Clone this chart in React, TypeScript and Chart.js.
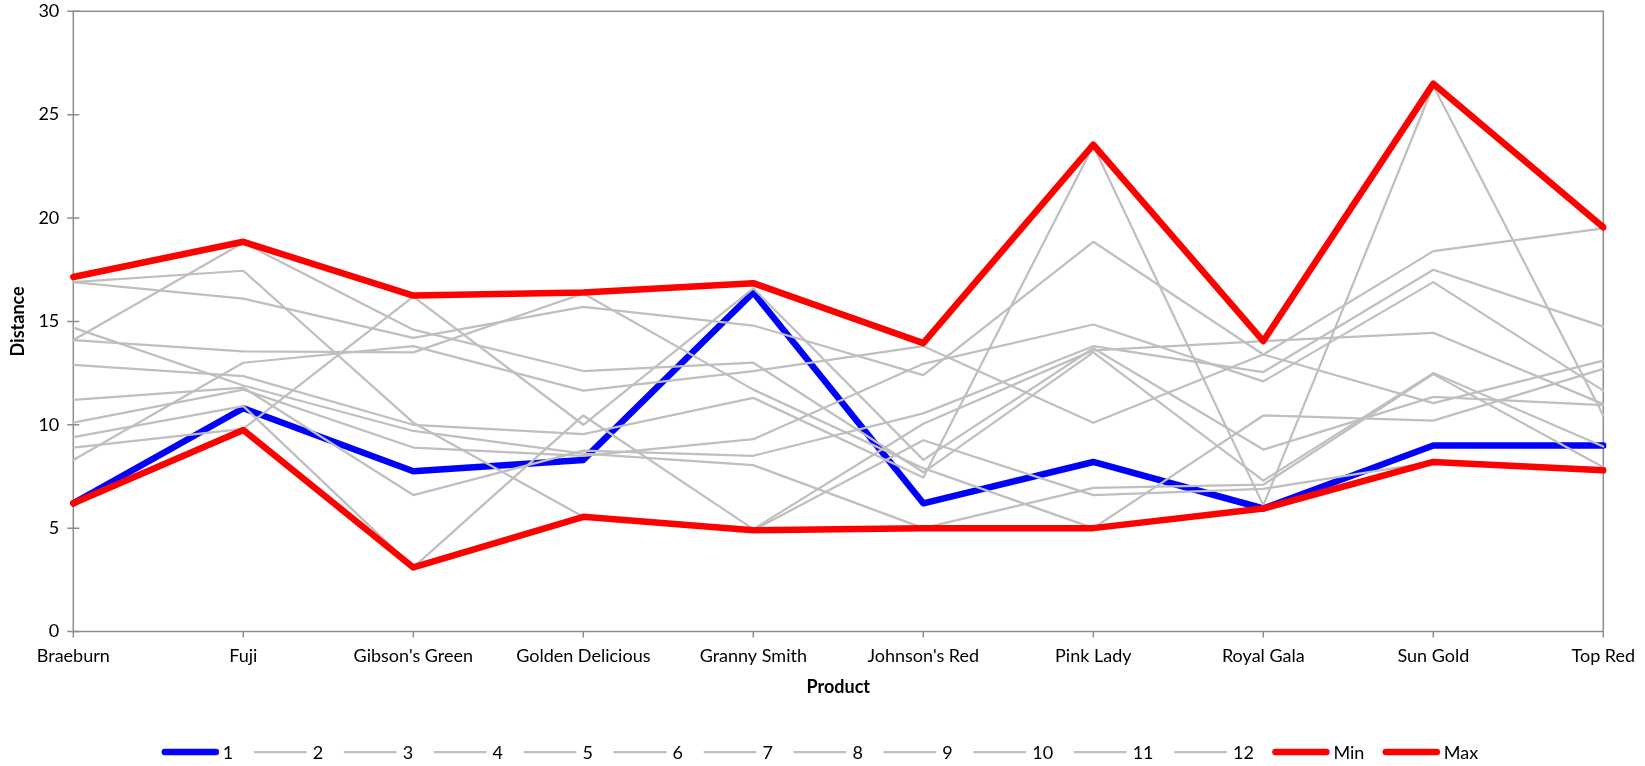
import React, { useEffect, useRef } from "react";
import { Chart, registerables } from "chart.js";

Chart.register(...registerables);

// Products on the category axis
const categories = [
  "Braeburn",
  "Fuji",
  "Gibson's Green",
  "Golden Delicious",
  "Granny Smith",
  "Johnson's Red",
  "Pink Lady",
  "Royal Gala",
  "Sun Gold",
  "Top Red",
];

// Distance per product for each respondent
const series1 = [6.2, 10.8, 7.75, 8.3, 16.4, 6.2, 8.2, 5.95, 9.0, 9.0];
const series2 = [14.1, 18.8, 14.6, 12.6, 13.0, 7.7, 13.5, 7.3, 12.5, 8.95];
const series3 = [16.9, 17.45, 10.1, 5.55, 4.9, 9.25, 6.6, 6.9, 8.2, 7.8];
const series4 = [16.9, 16.1, 14.2, 15.7, 14.8, 12.4, 18.85, 13.4, 11.05, 13.1];
const series5 = [14.1, 13.55, 13.5, 16.35, 11.7, 7.9, 5.0, 10.45, 10.2, 12.7];
const series6 = [14.7, 11.9, 9.7, 8.6, 8.05, 5.0, 6.95, 7.1, 12.45, 7.95];
const series7 = [12.9, 12.35, 10.0, 9.55, 11.3, 7.45, 23.5, 6.1, 26.4, 10.45];
const series8 = [8.3, 13.0, 13.8, 11.65, 12.6, 13.8, 10.1, 13.4, 18.4, 19.5];
const series9 = [11.2, 11.8, 6.6, 8.75, 8.5, 10.55, 13.8, 12.55, 17.5, 14.75];
const series10 = [10.1, 11.7, 8.9, 8.5, 9.3, 12.95, 14.85, 12.1, 16.9, 11.65];
const series11 = [9.4, 10.9, 3.1, 10.45, 4.95, 10.05, 13.6, 14.05, 14.45, 11.0];
const series12 = [8.9, 9.8, 16.2, 10.0, 16.6, 8.3, 13.7, 8.8, 11.35, 10.95];

// Envelope across all respondents
const minValues = [6.2, 9.75, 3.1, 5.55, 4.9, 5.0, 5.0, 5.95, 8.2, 7.8];
const maxValues = [17.15, 18.85, 16.25, 16.4, 16.85, 13.95, 23.55, 14.05, 26.5, 19.55];

const yTicks = [0, 5, 10, 15, 20, 25, 30];

const BLUE = "#0000FF";
const RED = "#FF0000";
const GRAY = "#BFBFBF";
const AXIS = "#8C8C8C";
const FONT = "Lato, 'Open Sans', 'DejaVu Sans', sans-serif";

const THICK = 6.5;
const THIN = 2.25;

const grayRows = [
  series2, series3, series4, series5, series6, series7,
  series8, series9, series10, series11, series12,
];

// Plot frame plus the tick marks on both axes
const framePlugin = {
  id: "plotFrame",
  beforeDatasetsDraw(chart: any) {
    const { ctx, chartArea: a, scales } = chart;
    ctx.save();
    ctx.strokeStyle = AXIS;
    ctx.lineWidth = 1.5;
    ctx.strokeRect(a.left, a.top, a.right - a.left, a.bottom - a.top);
    ctx.beginPath();
    for (const t of yTicks) {
      const y = scales.y.getPixelForValue(t);
      ctx.moveTo(a.left - 6, y);
      ctx.lineTo(a.left + 6, y);
    }
    categories.forEach((_, i) => {
      const x = scales.x.getPixelForValue(i);
      ctx.moveTo(x, a.bottom);
      ctx.lineTo(x, a.bottom + 6);
    });
    ctx.stroke();
    ctx.restore();
  },
};

// Single-row legend with line samples under the axis title
const lineLegendPlugin = {
  id: "lineLegend",
  afterDraw(chart: any) {
    const { ctx, width, height } = chart;
    const ds = chart.data.datasets;
    ctx.save();
    ctx.font = `18px ${FONT}`;
    const sample = 51;
    const gap = 7;
    const spacing = 21.5;
    const widths = ds.map((d: any) => ctx.measureText(d.label).width);
    const total =
      widths.reduce((s: number, w: number) => s + sample + gap + w, 0) +
      spacing * (ds.length - 1);
    let x = width / 2 - total / 2 - 1;
    const y = height - 14;
    ds.forEach((d: any, i: number) => {
      ctx.strokeStyle = d.borderColor;
      ctx.lineWidth = d.borderWidth;
      ctx.lineCap = "round";
      ctx.beginPath();
      ctx.moveTo(x, y);
      ctx.lineTo(x + sample, y);
      ctx.stroke();
      ctx.fillStyle = "#000";
      ctx.textBaseline = "middle";
      ctx.textAlign = "left";
      ctx.fillText(d.label, x + sample + gap, y + 1);
      x += sample + gap + widths[i] + spacing;
    });
    ctx.restore();
  },
};

function lineSet(label: string, data: number[], color: string, width: number, order: number) {
  return {
    label,
    data,
    borderColor: color,
    backgroundColor: color,
    borderWidth: width,
    borderCapStyle: "round" as const,
    borderJoinStyle: "round" as const,
    pointRadius: 0,
    pointHoverRadius: 0,
    tension: 0,
    fill: false,
    order,
  };
}

export default function App() {
  const canvasRef = useRef<HTMLCanvasElement | null>(null);

  useEffect(() => {
    document.body.style.margin = "0";
    const canvas = canvasRef.current;
    if (!canvas) return;

    const datasets = [
      lineSet("1", series1, BLUE, THICK, 20),
      ...grayRows.map((row, i) => lineSet(String(i + 2), row, GRAY, THIN, 19 - i)),
      lineSet("Min", minValues, RED, THICK, 1),
      lineSet("Max", maxValues, RED, THICK, 0),
    ];

    const tickFont = { family: FONT, size: 18 };
    const titleFont = { family: FONT, size: 18, weight: "bold" as const };

    const chart = new Chart(canvas, {
      type: "line",
      data: { labels: categories, datasets },
      options: {
        animation: false,
        responsive: false,
        events: [],
        layout: { padding: { top: 11.3, right: 41.7, bottom: 64, left: 0 } },
        plugins: {
          legend: { display: false },
          tooltip: { enabled: false },
        },
        scales: {
          x: {
            type: "category",
            offset: false,
            grid: { display: false, drawTicks: true, tickLength: 5 },
            border: { display: false },
            ticks: {
              color: "#000",
              font: tickFont,
              padding: 9,
              maxRotation: 0,
              autoSkip: false,
            },
            title: {
              display: true,
              text: "Product",
              color: "#000",
              font: titleFont,
              padding: { top: 0, bottom: 4 },
            },
            afterFit: (s: any) => {
              s.height = 70.5;
            },
          },
          y: {
            min: 0,
            max: 30,
            grid: { display: false, drawTicks: true, tickLength: 14 },
            border: { display: false },
            ticks: {
              stepSize: 5,
              color: "#000",
              font: tickFont,
              padding: 0,
            },
            title: {
              display: true,
              text: "Distance",
              color: "#000",
              font: titleFont,
              padding: { top: 7, bottom: 0 },
            },
            afterFit: (s: any) => {
              s.width = 73.3;
            },
          },
        },
      },
      plugins: [framePlugin, lineLegendPlugin],
    });

    return () => chart.destroy();
  }, []);

  return (
    <div style={{ position: "absolute", left: 0, top: 0, width: 1645, height: 766 }}>
      <canvas ref={canvasRef} width={1645} height={766} style={{ display: "block" }} />
    </div>
  );
}
